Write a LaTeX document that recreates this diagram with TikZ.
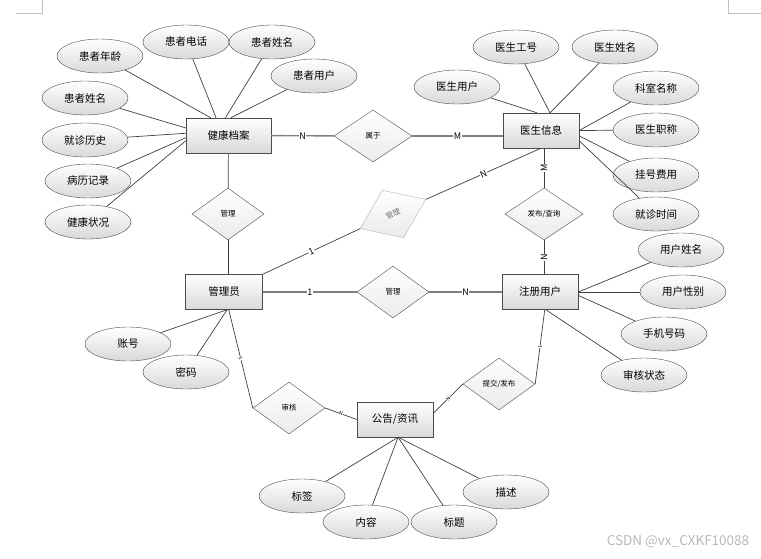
\documentclass[tikz,border=0pt]{standalone}
\usepackage{fontspec}
\setmainfont{Noto Sans CJK SC}
\usetikzlibrary{shapes.geometric}

\begin{document}
\begin{tikzpicture}[x=1pt,y=-1pt]
  \useasboundingbox (0,0) rectangle (761,558);
  \tikzstyle{entity}=[draw=black!70,top color=white,bottom color=black!15,minimum width=76pt,minimum height=35pt,font=\fontsize{10.5}{12}\selectfont]
  \tikzstyle{attr}=[ellipse,draw=black!70,top color=white,bottom color=black!15,minimum width=86pt,minimum height=34pt,inner sep=0pt,font=\fontsize{10.5}{12}\selectfont]
  \tikzstyle{rel}=[diamond,draw=black!70,top color=white,bottom color=black!8,minimum width=72pt,minimum height=52pt,inner sep=0pt,font=\fontsize{7.5}{9}\selectfont]
  \tikzstyle{link}=[draw=black!75,line width=0.7pt]
  \tikzstyle{glink}=[draw=black!50,line width=1.4pt]
  \tikzstyle{card}=[fill=white,inner sep=0.5pt,font=\fontsize{9}{10}\selectfont]
  \tikzstyle{tcard}=[fill=white,inner sep=0pt,font=\fontsize{5}{6}\selectfont,sloped]
  % page corner marks
  \draw[black!25] (16,13) -- (42,13) -- (42,0);
  \draw[black!25] (761,13) -- (728,13) -- (728,0);
  % entities
  \node[entity,minimum width=85pt] (jkda) at (228.5,135.5) {健康档案};
  \node[entity] (ysxx) at (541,130.5) {医生信息};
  \node[entity,minimum width=77pt] (gly) at (224,292) {管理员};
  \node[entity] (zcyh) at (540,292) {注册用户};
  \node[entity] (ggzx) at (395,419.5) {公告/资讯};
  % relations
  \node[rel,minimum width=78pt] (sy) at (373,136) {属于};
  \node[rel] (gl1) at (228,214) {管理};
  \node[rel,draw=black!30,text=black!55,rotate=24] (gl2) at (393,214) {管理};
  \node[rel] (gl3) at (393,292) {管理};
  \node[rel,minimum width=78pt] (fbcx) at (544,214) {发布/查询};
  \node[rel] (sh) at (289,408) {审核};
  \node[rel] (tjfb) at (499,384) {提交/发布};
  % attributes of 健康档案
  \node[attr] (hznl) at (100,56) {患者年龄};
  \node[attr] (hzdh) at (186,42) {患者电话};
  \node[attr] (hzxm) at (272,42) {患者姓名};
  \node[attr] (hzyh) at (314,76) {患者用户};
  \node[attr] (hzxm2) at (85,98) {患者姓名};
  \node[attr] (jzls) at (85,140) {就诊历史};
  \node[attr] (bljl) at (88,181) {病历记录};
  \node[attr] (jkzk) at (88,222) {健康状况};
  % attributes of 医生信息
  \node[attr] (ysyh) at (457,87) {医生用户};
  \node[attr] (ysgh) at (516,47) {医生工号};
  \node[attr] (ysxm) at (615,47) {医生姓名};
  \node[attr] (ksmc) at (656,88) {科室名称};
  \node[attr] (yszc) at (656,130) {医生职称};
  \node[attr] (ghfy) at (656,175) {挂号费用};
  \node[attr] (jzsj) at (656,214) {就诊时间};
  % attributes of 注册用户
  \node[attr] (yhxm) at (681,250) {用户姓名};
  \node[attr] (yhxb) at (683,292) {用户性别};
  \node[attr] (sjhm) at (664,334) {手机号码};
  \node[attr] (shzt) at (644,375) {审核状态};
  % attributes of 管理员
  \node[attr] (zh) at (128,344) {账号};
  \node[attr] (mm) at (186,372) {密码};
  % attributes of 公告/资讯
  \node[attr] (bq) at (302,496) {标签};
  \node[attr] (nr) at (366,522) {内容};
  \node[attr] (bt) at (454,522) {标题};
  \node[attr] (ms) at (506,492) {描述};
  % attribute links
  \draw[link] (hznl) -- (jkda.135);
  \draw[link] (hzdh) -- (jkda.125);
  \draw[link] (hzxm) -- (jkda.100);
  \draw[link] (hzyh) -- (jkda.83);
  \draw[link] (hzxm2) -- (jkda.170);
  \draw[link] (jzls) -- (jkda.177);
  \draw[link] (bljl) -- (jkda.183);
  \draw[link] (jkzk) -- (jkda.187);
  \draw[link] (ysyh) -- (ysxx.103);
  \draw[link] (ysgh) -- (ysxx.63);
  \draw[link] (ysxm) -- (ysxx.63);
  \draw[link] (ksmc) -- (ysxx.east);
  \draw[link] (yszc) -- (ysxx.east);
  \draw[link] (ghfy) -- (ysxx.-8);
  \draw[link] (jzsj) -- (ysxx.-15);
  \draw[link] (yhxm) -- (zcyh.east);
  \draw[link] (yhxb) -- (zcyh.east);
  \draw[link] (sjhm) -- (zcyh.-5);
  \draw[link] (shzt) -- (zcyh.-72);
  \draw[link] (zh) -- (gly.-80);
  \draw[link] (mm) -- (gly.-80);
  \draw[link] (bq) -- (ggzx.-80);
  \draw[link] (nr) -- (ggzx.-80);
  \draw[link] (bt) -- (ggzx.-80);
  \draw[link] (ms) -- (ggzx.-80);
  % relation links
  \draw[glink] (jkda) -- node[card]{N} (sy);
  \draw[glink] (sy.east) -- node[card]{M} (sy.east -| ysxx.west);
  \draw[link] (jkda) -- (gl1);
  \draw[link] (gl1.south) -- (gl1.south |- gly.north);
  \draw[link] (gly.north east) -- node[card,sloped]{1} (gl2.west);
  \draw[link] (gl2.east) -- node[card,sloped]{N} (ysxx.south);
  \draw[glink] (gly) -- node[card]{1} (gl3);
  \draw[glink] (gl3) -- node[card]{N} (zcyh);
  \draw[link] (fbcx.north) -- node[card,rotate=90]{M} (fbcx.north |- ysxx.south);
  \draw[link] (fbcx.south) -- node[card,rotate=90]{N} (fbcx.south |- zcyh.north);
  \draw[link] (gly.-75) -- node[tcard]{1} (sh.west);
  \draw[link] (sh.east) -- node[tcard]{N} (ggzx.west);
  \draw[link] (zcyh.-75) -- node[tcard]{1} (tjfb.east);
  \draw[link] (tjfb.west) -- node[tcard]{N} (ggzx.9);
  % watermark
  \node[text=black!28,font=\fontsize{13.5}{14}\selectfont] (wm) at (678,542) {CSDN @vx\_CXKF10088};
\end{tikzpicture}
\end{document}
